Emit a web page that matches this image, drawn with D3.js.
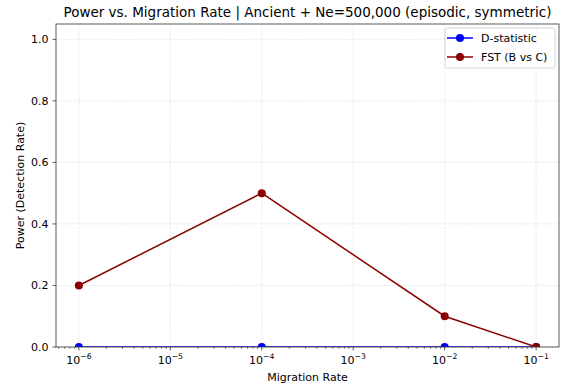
<!DOCTYPE html>
<html><head><meta charset="utf-8">
<script src="https://cdn.jsdelivr.net/npm/d3@7"></script>
<style>
body{margin:0;background:#fff;}
text{font-family:"DejaVu Sans",sans-serif;}
</style></head>
<body><svg id="c" width="561" height="390"></svg>
<script>
const migrationRates = [1e-6, 1e-4, 1e-2, 1e-1];
const dStatistic = [0, 0, 0, 0];
const fstBvsC = [0.2, 0.5, 0.1, 0.0];
const xTickExps = [-6, -5, -4, -3, -2, -1];
const yTicks = [0, 0.2, 0.4, 0.6, 0.8, 1.0];
const seriesNames = ["D-statistic", "FST (B vs C)"];
const seriesColors = ["#0000ff", "#8b0000"];

const svg = d3.select("#c");
const L = 56, R = 559, T = 24, B = 347;
const x = d3.scaleLog().domain([Math.pow(10, -6.25), Math.pow(10, -0.75)]).range([L, R]);
const y = d3.scaleLinear().domain([0, 1.05]).range([B, T]);

svg.append("rect").attr("x",0).attr("y",0).attr("width",561).attr("height",390).attr("fill","#fff");
svg.append("defs").append("clipPath").attr("id","clip").append("rect")
  .attr("x",L).attr("y",T).attr("width",R-L).attr("height",B-T);

// grid
const g = svg.append("g");
xTickExps.forEach(e => {
  g.append("line").attr("x1", x(Math.pow(10,e))).attr("x2", x(Math.pow(10,e)))
    .attr("y1", T).attr("y2", B).attr("stroke","#b0b0b0").attr("stroke-opacity",0.3)
    .attr("stroke-width",0.8).attr("stroke-dasharray","3,1.3");
});
yTicks.forEach(v => {
  g.append("line").attr("x1", L).attr("x2", R).attr("y1", y(v)).attr("y2", y(v))
    .attr("stroke","#b0b0b0").attr("stroke-opacity",0.3)
    .attr("stroke-width",0.8).attr("stroke-dasharray","3,1.3");
});

// lines
const plot = svg.append("g").attr("clip-path","url(#clip)");
const line = d3.line().x((d,i)=>x(migrationRates[i])).y(d=>y(d));
[dStatistic, fstBvsC].forEach((s, k) => {
  plot.append("path").attr("d", line(s)).attr("fill","none")
    .attr("stroke", seriesColors[k]).attr("stroke-width",1.5);
  s.forEach((v,i) => {
    plot.append("circle").attr("cx", x(migrationRates[i])).attr("cy", y(v)).attr("r",4)
      .attr("fill", seriesColors[k]);
  });
});

// spines
svg.append("rect").attr("x",L).attr("y",T).attr("width",R-L).attr("height",B-T)
  .attr("fill","none").attr("stroke","#333").attr("stroke-width",0.8);

// x axis ticks
const xa = svg.append("g");
xTickExps.forEach(e => {
  const px = x(Math.pow(10,e));
  xa.append("line").attr("x1",px).attr("x2",px).attr("y1",B).attr("y2",B+3.5).attr("stroke","#333").attr("stroke-width",0.8);
  const t = xa.append("text").attr("x",px).attr("y",B+16.5).attr("text-anchor","middle").attr("font-size",11).attr("fill","#000");
  t.append("tspan").text("10");
  t.append("tspan").attr("dy",-4.5).attr("font-size",7.7).text("\u2212" + Math.abs(e));
});
for (let e = -7; e <= -1; e++) {
  for (let m = 2; m <= 9; m++) {
    const v = m*Math.pow(10,e);
    if (v < x.domain()[0] || v > x.domain()[1]) continue;
    const px = x(v);
    xa.append("line").attr("x1",px).attr("x2",px).attr("y1",B).attr("y2",B+2).attr("stroke","#333").attr("stroke-width",0.6);
  }
}
// y axis ticks
yTicks.forEach(v => {
  svg.append("line").attr("x1",L-3.5).attr("x2",L).attr("y1",y(v)).attr("y2",y(v)).attr("stroke","#333").attr("stroke-width",0.8);
  svg.append("text").attr("x",L-7.5).attr("y",y(v)+4).attr("text-anchor","end").attr("font-size",11).attr("fill","#000").text(v.toFixed(1));
});

// labels
svg.append("text").attr("x",(L+R)/2).attr("y",381).attr("text-anchor","middle").attr("font-size",11).text("Migration Rate");
svg.append("text").attr("transform",`translate(24,${(T+B)/2}) rotate(-90)`).attr("text-anchor","middle").attr("font-size",11).text("Power (Detection Rate)");
svg.append("text").attr("x",(L+R)/2).attr("y",17).attr("text-anchor","middle").attr("font-size",13.5).text("Power vs. Migration Rate | Ancient + Ne=500,000 (episodic, symmetric)");

// legend
const lg = svg.append("g");
lg.append("rect").attr("x",445).attr("y",28).attr("width",110).attr("height",40).attr("rx",2.5)
  .attr("fill","#fff").attr("fill-opacity",0.8).attr("stroke","#ccc").attr("stroke-width",0.8);
seriesNames.forEach((n,k) => {
  const yy = 38 + k*19;
  lg.append("line").attr("x1",447).attr("x2",473).attr("y1",yy).attr("y2",yy).attr("stroke",seriesColors[k]).attr("stroke-width",1.5);
  lg.append("circle").attr("cx",460).attr("cy",yy).attr("r",4).attr("fill",seriesColors[k]);
  lg.append("text").attr("x",481).attr("y",yy+4).attr("font-size",11).text(n);
});
</script></body></html>
